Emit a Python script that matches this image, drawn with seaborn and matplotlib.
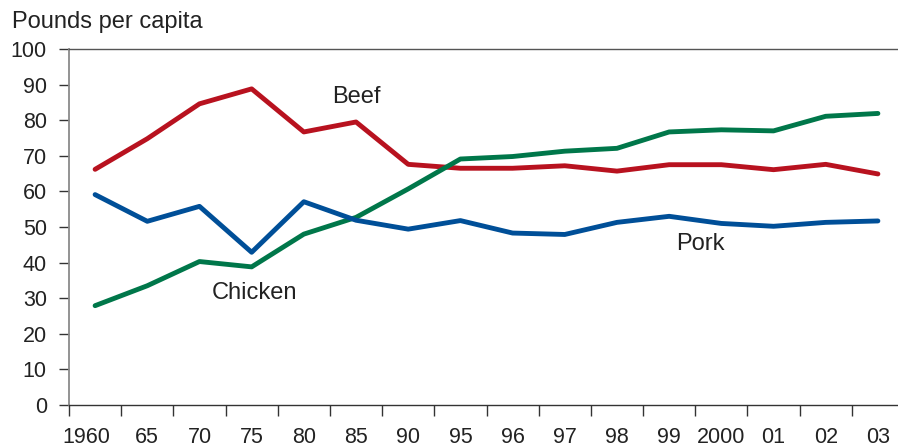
import pandas as pd
import numpy as np
import matplotlib.pyplot as plt
import matplotlib.transforms as mtransforms
import seaborn as sns
from matplotlib.ticker import FixedLocator

sns.set_style("ticks")
plt.rcParams['font.family'] = ['Liberation Sans', 'DejaVu Sans']

# 年份（分类轴）
years = ["1960", "65", "70", "75", "80", "85", "90", "95", "96", "97",
         "98", "99", "2000", "01", "02", "03"]

# 人均消费量（磅）
beef = [66.2, 74.8, 84.6, 88.8, 76.7, 79.5, 67.6, 66.5, 66.5, 67.2,
        65.7, 67.5, 67.5, 66.1, 67.6, 64.9]
chicken = [27.9, 33.5, 40.3, 38.8, 48.0, 52.7, 60.7, 69.1, 69.8, 71.3,
           72.1, 76.7, 77.3, 77.0, 81.1, 81.9]
pork = [59.1, 51.6, 55.8, 42.9, 57.1, 51.9, 49.4, 51.8, 48.3, 47.9,
        51.3, 53.0, 51.0, 50.2, 51.3, 51.7]

df = pd.DataFrame({"year": years * 3,
                   "pos": list(range(len(years))) * 3,
                   "value": beef + chicken + pork,
                   "meat": ["Beef"] * 16 + ["Chicken"] * 16 + ["Pork"] * 16})

palette = {"Beef": "#B8121F", "Chicken": "#00774A", "Pork": "#004F98"}

fig = plt.figure(figsize=(8.98, 4.47), dpi=100)
ax = fig.add_axes([69 / 898, 42 / 447, 835 / 898, 356 / 447])

sns.lineplot(data=df, x="pos", y="value", hue="meat", palette=palette,
             linewidth=3.5, legend=False, ax=ax)

ax.set_xlim(-0.5, 15.5)
ax.set_ylim(0, 100)
ax.set_xlabel("")
ax.set_ylabel("")

# x轴：标签居中，刻度线在分类之间
ax.set_xticks(range(len(years)))
ax.set_xticklabels(years)
ax.xaxis.set_minor_locator(FixedLocator(np.arange(-0.5, 15.5, 1)))
ax.tick_params(axis="x", which="major", length=0, pad=16, labelsize=15.5, colors="#222222")
ax.tick_params(axis="x", which="minor", length=8, width=1.0, color="#333333")

# 1960 标签稍微左移
lbl = ax.get_xticklabels()[0]
lbl.set_transform(lbl.get_transform() + mtransforms.ScaledTranslation(-0.09, 0, fig.dpi_scale_trans))

ax.set_yticks(range(0, 101, 10))
ax.tick_params(axis="y", length=7, width=1.0, color="#333333", pad=9,
               labelsize=15.5, labelcolor="#222222")

ax.spines["right"].set_visible(False)
ax.spines["left"].set_color("#8a8a8a")
ax.spines["left"].set_linewidth(1.3)
ax.spines["bottom"].set_color("#333333")
ax.spines["top"].set_color("#555555")
ax.spines["bottom"].set_linewidth(1.0)
ax.spines["top"].set_linewidth(1.0)

ax.text(5.0, 86.6, "Beef", fontsize=17, color="#222222", ha="center", va="center")
ax.text(3.05, 31.6, "Chicken", fontsize=17, color="#222222", ha="center", va="center")
ax.text(11.6, 45.3, "Pork", fontsize=17, color="#222222", ha="center", va="center")

fig.text(12 / 898, 1 - 22 / 447, "Pounds per capita", fontsize=17,
         color="#222222", ha="left", va="center")

fig.savefig("out.png", dpi=100)
